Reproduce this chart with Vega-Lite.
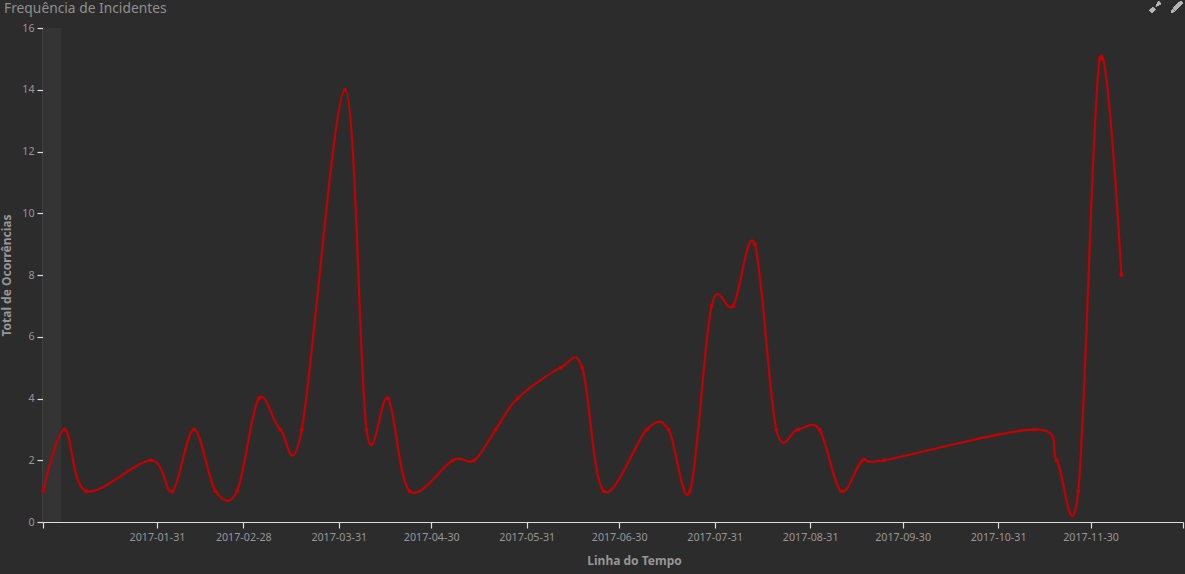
{
"$schema":"https://vega.github.io/schema/vega-lite/v6.json",
"width":1140,"height":494,
"autosize":{"type":"none"},
"padding":{"left":43,"top":28,"right":2,"bottom":52},
"background":"#2c2c2c",
"title":{"text":"Frequência de Incidentes","anchor":"start","frame":"group","dx":-39,"dy":15,"offset":0,"font":"Noto Sans","fontSize":13.8,"fontWeight":"normal","color":"#8f8f8f"},
"config":{"view":{"stroke":null},"font":"Noto Sans"},
"datasets":{
"incidents":[
{"data":"2016-12-25","total":1},{"data":"2017-01-01","total":3},{"data":"2017-01-08","total":1},{"data":"2017-01-29","total":2},{"data":"2017-02-05","total":1},{"data":"2017-02-12","total":3},{"data":"2017-02-19","total":1},{"data":"2017-02-26","total":1},{"data":"2017-03-05","total":4},{"data":"2017-03-12","total":3},{"data":"2017-03-19","total":3},{"data":"2017-04-02","total":14},{"data":"2017-04-09","total":3},{"data":"2017-04-16","total":4},{"data":"2017-04-23","total":1},{"data":"2017-05-07","total":2},{"data":"2017-05-14","total":2},{"data":"2017-05-21","total":3},{"data":"2017-05-28","total":4},{"data":"2017-06-11","total":5},{"data":"2017-06-18","total":5},{"data":"2017-06-25","total":1},{"data":"2017-07-09","total":3},{"data":"2017-07-16","total":3},{"data":"2017-07-23","total":1},{"data":"2017-07-30","total":7},{"data":"2017-08-06","total":7},{"data":"2017-08-13","total":9},{"data":"2017-08-20","total":3},{"data":"2017-08-27","total":3},{"data":"2017-09-03","total":3},{"data":"2017-09-10","total":1},{"data":"2017-09-17","total":2},{"data":"2017-09-24","total":2},{"data":"2017-11-12","total":3},{"data":"2017-11-19","total":2},{"data":"2017-11-26","total":1},{"data":"2017-12-03","total":15},{"data":"2017-12-10","total":8}
],
"band":[{"inicio":"2016-12-25","fim":"2016-12-31"}]
},
"data":{"name":"incidents"},
"layer":[
{"data":{"name":"band"},
 "mark":{"type":"rect","color":"#343434"},
 "encoding":{"x":{"field":"inicio","type":"temporal"},"x2":{"field":"fim"},"y":{"datum":0,"type":"quantitative"},"y2":{"datum":16}}},
{"mark":{"type":"line","color":"#c40000","strokeWidth":2.2,"interpolate":"cardinal"},
 "encoding":{
  "x":{"field":"data","type":"temporal","title":"Linha do Tempo",
   "scale":{"type":"utc","domain":["2016-12-25","2017-12-30"]},
   "axis":{"values":[1482624000000,1485820800000,1488240000000,1490918400000,1493510400000,1496188800000,1498780800000,1501459200000,1504137600000,1506729600000,1509408000000,1512000000000,1514592000000],
    "labelExpr":"datum.value<1483228800000||datum.value>1513000000000?'':utcFormat(datum.value,'%Y-%m-%d')",
    "grid":false,"domainColor":"#dddddd","tickColor":"#dddddd","domainWidth":1.2,"tickWidth":1.2,"tickSize":6,"labelColor":"#969696","labelFontSize":10.7,"labelFont":"Noto Sans","labelPadding":4,"labelOverlap":false,"labelFlush":false,"titleColor":"#969696","titleFontSize":12,"titleFont":"Noto Sans","titleFontWeight":"bold","titleX":591,"titleY":38,"titleBaseline":"middle"}},
  "y":{"field":"total","type":"quantitative","title":"Total de Ocorrências",
   "scale":{"domain":[0,16],"nice":false},
   "axis":{"values":[0,2,4,6,8,10,12,14,16],"grid":false,"domainColor":"#dddddd","tickColor":"#dddddd","domainWidth":1.2,"tickWidth":1.2,"tickSize":6,"labelColor":"#969696","labelFontSize":10.7,"labelFont":"Noto Sans","labelPadding":3,"titleColor":"#969696","titleFontSize":12,"titleFont":"Noto Sans","titleFontWeight":"bold","titleX":-37,"titleY":247,"titleBaseline":"middle"}}
 }},
{"mark":{"type":"point","filled":true,"color":"#c40000","size":16,"opacity":1},
 "encoding":{"x":{"field":"data","type":"temporal"},"y":{"field":"total","type":"quantitative"}}},
{"mark":{"type":"point","filled":true,"color":"#b5b5b5","opacity":1,"size":144,"clip":false,"shape":"M-0.95,0.55 L-0.4,0 L0,0.45 L-0.55,1 Z M-0.95,0.95 L-0.6,0.6 M0.1,-0.1 L0.55,-0.95 L0.95,-0.55 Z"},
 "encoding":{"x":{"datum":{"year":2017,"month":12,"date":21,"utc":true},"type":"temporal"},"y":{"datum":16.68,"type":"quantitative"}}},
{"mark":{"type":"point","filled":true,"color":"#b5b5b5","opacity":1,"size":144,"clip":false,"shape":"M-0.95,0.95 L-0.75,0.35 L-0.35,0.75 Z M-0.6,0.2 L0.4,-0.8 L0.8,-0.4 L-0.2,0.6 Z M0.5,-0.9 L0.65,-1 L1,-0.65 L0.9,-0.5 Z"},
 "encoding":{"x":{"datum":{"year":2017,"month":12,"date":28,"utc":true},"type":"temporal"},"y":{"datum":16.68,"type":"quantitative"}}}
]
}
